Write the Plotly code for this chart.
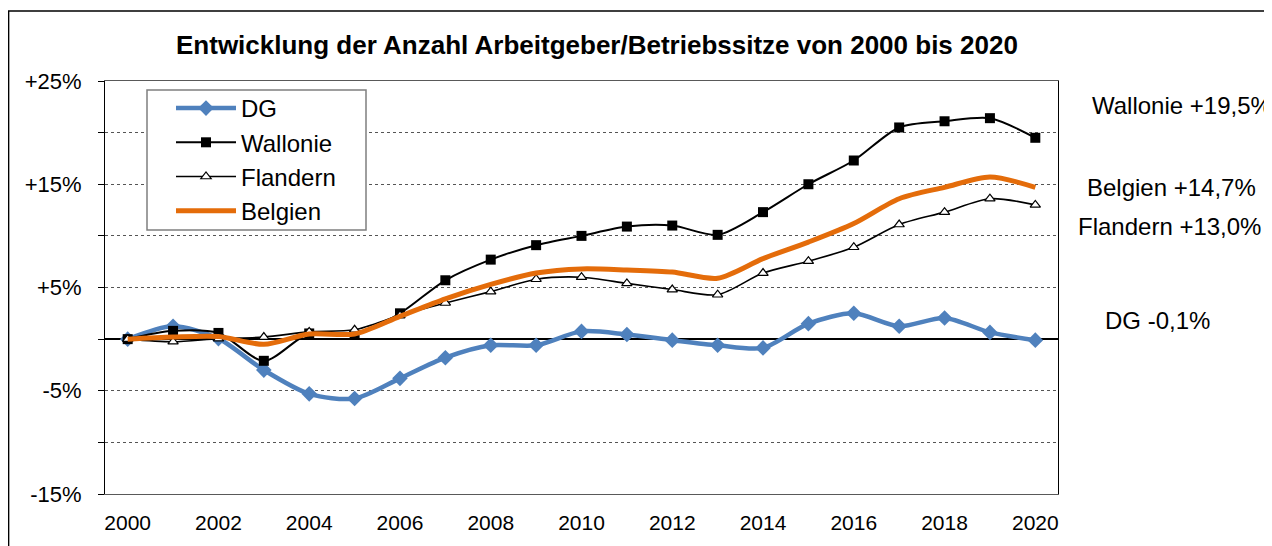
import plotly.graph_objects as go

years = list(range(2000, 2021))
dg = [0.0, 1.25, 0.05, -3.0, -5.3, -5.75, -3.8, -1.8, -0.6, -0.6, 0.75, 0.45, -0.1, -0.6, -0.85, 1.5, 2.5, 1.25, 2.05, 0.65, -0.1]
wallonie = [0.0, 0.8, 0.6, -2.1, 0.55, 0.4, 2.5, 5.7, 7.7, 9.1, 10.0, 10.9, 11.0, 10.1, 12.3, 15.0, 17.3, 20.5, 21.1, 21.4, 19.5]
flandern = [0.0, -0.25, 0.05, 0.2, 0.7, 0.9, 2.3, 3.5, 4.6, 5.8, 6.0, 5.4, 4.8, 4.3, 6.4, 7.55, 8.9, 11.1, 12.3, 13.6, 13.0]
belgien = [0.0, 0.2, 0.25, -0.5, 0.5, 0.5, 2.2, 3.9, 5.3, 6.4, 6.8, 6.7, 6.5, 5.9, 7.8, 9.4, 11.2, 13.6, 14.7, 15.7, 14.7]

ytick_vals = [-15, -10, -5, 0, 5, 10, 15, 20, 25]
ytick_text = ["-15%", "", "-5%", "", "+5%", "", "+15%", "", "+25%"]
xtick_vals = list(range(2000, 2021, 2))

end_labels = ["Wallonie +19,5%", "Belgien +14,7%", "Flandern +13,0%", "DG -0,1%"]

FONT = "Arial, Liberation Sans, sans-serif"
OFF = 8  # browser body margin
W, H = 1272 - OFF, 546 - OFF
L, R, T, B = 105, 1058, 81, 494  # plot area in screenshot px

def px_x(p):
    return (p - L) / (R - L)

def px_y(p):
    return (B - p) / (B - T)

fig = go.Figure()
fig.add_trace(go.Scatter(
    x=years, y=dg, name="DG", mode="lines+markers", legendgroup="a",
    line=dict(color="#4F81BD", width=4.5, shape="spline", smoothing=0.8),
    marker=dict(symbol="diamond", size=12, color="#4F81BD")))
fig.add_trace(go.Scatter(
    x=years, y=wallonie, name="Wallonie", mode="lines+markers", legendgroup="b",
    line=dict(color="black", width=2, shape="spline", smoothing=0.8),
    marker=dict(symbol="square", size=10, color="black")))
fig.add_trace(go.Scatter(
    x=years, y=flandern, name="Flandern", mode="lines+markers", legendgroup="c",
    line=dict(color="black", width=1.6, shape="spline", smoothing=0.8),
    marker=dict(symbol="triangle-up", size=9, color="white", line=dict(color="black", width=1.2))))
fig.add_trace(go.Scatter(
    x=years, y=belgien, name="Belgien", mode="lines", legendgroup="d",
    line=dict(color="#E46C0A", width=5, shape="spline", smoothing=0.8)))

annos = []
annos.append(dict(text="<b>Entwicklung der Anzahl Arbeitgeber/Betriebssitze von 2000 bis 2020</b>",
                  xref="paper", yref="paper", x=px_x(597), y=px_y(45), xanchor="center", yanchor="middle",
                  showarrow=False, font=dict(family=FONT, size=26, color="black")))
label_pos = [(1090, 106), (1085, 187), (1076, 226), (1103, 320)]
for txt, (lx, ly) in zip(end_labels, label_pos):
    annos.append(dict(text=txt, xref="paper", yref="paper", x=px_x(lx), y=px_y(ly),
                      xanchor="left", yanchor="middle", showarrow=False,
                      font=dict(family=FONT, size=24, color="black")))

fig.update_layout(
    width=W, height=H,
    margin=dict(l=L - OFF, r=(1272 - OFF) - (R - OFF), t=T - OFF, b=(546 - OFF) - (B - OFF), pad=0),
    paper_bgcolor="white", plot_bgcolor="white",
    font=dict(family=FONT, size=20, color="black"),
    showlegend=True,
    legend=dict(x=px_x(171), y=px_y(86), xanchor="left", yanchor="top",
                bgcolor="rgba(0,0,0,0)", borderwidth=0,
                font=dict(family=FONT, size=24, color="black"),
                itemwidth=60, tracegroupgap=0),
    annotations=annos,
    shapes=[
        dict(type="rect", xref="paper", yref="paper",
             x0=px_x(8.6), x1=px_x(1300), y0=px_y(580), y1=px_y(11),
             line=dict(color="black", width=1.5), fillcolor="rgba(0,0,0,0)", layer="below"),
        dict(type="rect", xref="paper", yref="paper",
             x0=px_x(147), x1=px_x(366), y0=px_y(230), y1=px_y(90),
             line=dict(color="#7f7f7f", width=1.5), fillcolor="white", layer="above"),
    ],
)
fig.update_xaxes(
    range=[1999.5, 2020.5], tickvals=xtick_vals, ticktext=[str(v) for v in xtick_vals],
    showgrid=False, zeroline=False, showline=True, linecolor="#595959", linewidth=1, mirror=True,
    ticks="", ticklabelstandoff=10, tickfont=dict(family=FONT, size=21, color="black"))
fig.update_yaxes(
    range=[-15, 25], tickvals=ytick_vals, ticktext=ytick_text,
    showgrid=True, gridcolor="#555555", griddash="dot", gridwidth=1,
    zeroline=True, zerolinecolor="black", zerolinewidth=2,
    showline=True, linecolor="black", linewidth=1, mirror=True,
    ticks="outside", ticklen=6, tickcolor="black", ticklabelstandoff=12,
    tickfont=dict(family=FONT, size=22, color="black"))

fig.write_html("out.html")
